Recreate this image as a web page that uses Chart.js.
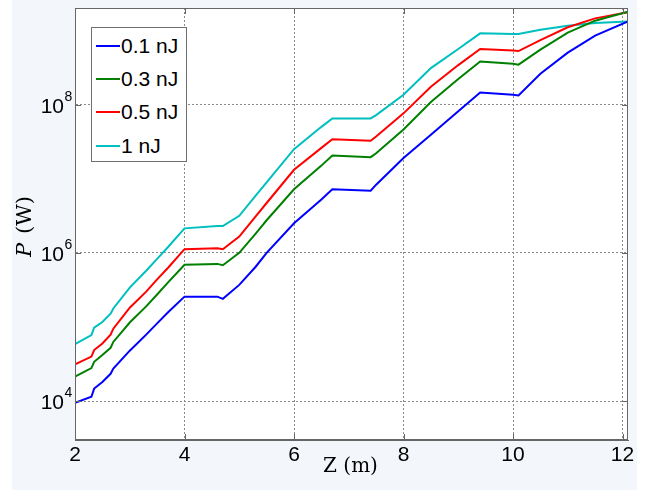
<!DOCTYPE html>
<html>
<head>
<meta charset="utf-8">
<script src="https://cdn.jsdelivr.net/npm/chart.js@4/dist/chart.umd.min.js"></script>
<style>
    html, body { margin: 0; padding: 0; background: #ffffff; }
    #wrap { position: relative; width: 645px; height: 492px; }
    #legend {
        position: absolute; left: 91px; top: 27px; width: 96px; height: 135px;
        box-sizing: border-box; border: 1px solid #6f6f6f; background: #ffffff;
        padding-top: 1px; font-family: 'Liberation Sans', Arial, sans-serif; font-size: 21px; color: #000;
    }
    #legend .row { display: flex; align-items: center; height: 33.4px; }
    #legend .swatch { width: 24px; height: 2px; margin-left: 4px; margin-right: 1px; }
</style>
</head>
<body>
<div id="wrap">
    <canvas id="chart"></canvas>
    <div id="legend"></div>
</div>
<script>
    'use strict';

    // propagation distance Z (m)
    const zValues = [2.0, 2.3, 2.35, 2.5, 2.65, 2.7, 3.0, 3.3, 3.5, 3.7, 4.0, 4.6, 4.7, 5.0, 5.3, 5.5,
        6.0, 6.5, 6.7, 7.4, 7.5, 8.0, 8.5, 9.0, 9.4, 10.0, 10.1, 10.5, 11.0, 11.5, 12.1];

    // peak power P (W) for each input energy
    const p01nJ = [9.5e3, 1.15e4, 1.48e4, 1.82e4, 2.34e4, 2.75e4, 4.8e4, 7.9e4, 1.12e5, 1.58e5, 2.57e5, 2.57e5, 2.4e5,
        3.7e5, 6.5e5, 1.0e6, 2.5e6, 5.25e6, 7.2e6, 6.9e6, 8.3e6, 1.9e7, 3.9e7, 8.1e7, 1.45e8, 1.35e8, 1.32e8,
        2.6e8, 5.0e8, 8.5e8, 1.32e9];
    const p03nJ = [2.14e4, 2.8e4, 3.4e4, 4.2e4, 5.25e4, 6.3e4, 1.15e5, 1.9e5, 2.75e5, 4.0e5, 6.9e5, 7.1e5, 6.8e5,
        1.0e6, 1.82e6, 2.75e6, 7.2e6, 1.5e7, 2.05e7, 1.95e7, 2.2e7, 4.6e7, 1.08e8, 2.2e8, 3.8e8, 3.55e8, 3.45e8,
        5.5e8, 9.3e8, 1.35e9, 1.78e9];
    const p05nJ = [3.15e4, 4.0e4, 4.9e4, 6.0e4, 7.9e4, 9.5e4, 1.82e5, 3.0e5, 4.4e5, 6.3e5, 1.12e6, 1.15e6, 1.12e6,
        1.66e6, 3.1e6, 4.7e6, 1.32e7, 2.6e7, 3.4e7, 3.25e7, 3.7e7, 7.6e7, 1.74e8, 3.4e8, 5.6e8, 5.35e8, 5.25e8,
        7.4e8, 1.1e9, 1.45e9, 1.76e9];
    const p1nJ = [5.9e4, 7.8e4, 9.8e4, 1.17e5, 1.51e5, 1.78e5, 3.4e5, 5.75e5, 8.3e5, 1.2e6, 2.14e6, 2.3e6, 2.3e6,
        3.16e6, 5.9e6, 8.9e6, 2.5e7, 5.0e7, 6.5e7, 6.5e7, 7.2e7, 1.35e8, 3.1e8, 5.6e8, 9.1e8, 8.9e8, 8.9e8,
        1.02e9, 1.15e9, 1.26e9, 1.32e9];

    const seriesLabels = ['0.1 nJ', '0.3 nJ', '0.5 nJ', '1 nJ'];
    const xTickValues = [2, 4, 6, 8, 10, 12];
    const yTickValues = [1e4, 1e6, 1e8];

    const AXIS_COLOR = '#666666';
    const TICK_FONT = "'Liberation Sans', Arial, sans-serif";
    const TITLE_FONT = "'DejaVu Serif', 'Liberation Serif', serif";

    function toPoints(values) {
        return values.map((v, i) => ({ x: zValues[i], y: v }));
    }

    function lineSet(label, values, color) {
        return {
            label: label,
            data: toPoints(values),
            borderColor: color,
            backgroundColor: color,
            borderWidth: 2,
            pointRadius: 0,
            tension: 0,
            fill: false
        };
    }

    // figure background, white axes, box, inward ticks, log labels and axis titles
    const matlabFrame = {
        id: 'matlabFrame',
        beforeDraw(chart) {
            const { ctx, chartArea: a } = chart;
            ctx.save();
            ctx.fillStyle = '#f3f6fb';
            ctx.fillRect(12, 0, 625, 490);
            ctx.fillStyle = '#ffffff';
            ctx.fillRect(a.left, a.top, a.right - a.left, a.bottom - a.top);
            ctx.restore();
        },
        afterDraw(chart) {
            const { ctx, chartArea: a } = chart;
            const xs = chart.scales.x, ys = chart.scales.y;
            ctx.save();
            ctx.strokeStyle = AXIS_COLOR;
            ctx.lineWidth = 1;
            ctx.strokeRect(a.left + 0.5, a.top + 0.5, a.right - a.left - 1, a.bottom - a.top - 1);

            ctx.beginPath();
            xTickValues.forEach(v => {
                const px = Math.round(xs.getPixelForValue(v)) + 0.5;
                ctx.moveTo(px, a.bottom); ctx.lineTo(px, a.bottom - 6);
                ctx.moveTo(px, a.top); ctx.lineTo(px, a.top + 6);
            });
            yTickValues.forEach(v => {
                const py = Math.round(ys.getPixelForValue(v)) + 0.5;
                ctx.moveTo(a.left, py); ctx.lineTo(a.left + 6, py);
                ctx.moveTo(a.right, py); ctx.lineTo(a.right - 6, py);
            });
            ctx.stroke();

            // y tick labels as 10 with a raised exponent
            ctx.fillStyle = '#000000';
            ctx.textBaseline = 'alphabetic';
            yTickValues.forEach(v => {
                const py = ys.getPixelForValue(v);
                const exp = String(Math.round(Math.log10(v)));
                ctx.font = '21px ' + TICK_FONT;
                ctx.textAlign = 'right';
                ctx.fillText('10', a.left - 11, py + 8);
                ctx.font = '14px ' + TICK_FONT;
                ctx.textAlign = 'left';
                ctx.fillText(exp, a.left - 10.5, py - 4);
            });

            // axis titles
            ctx.font = '20px ' + TITLE_FONT;
            ctx.textAlign = 'center';
            ctx.fillText('Z (m)', (a.left + a.right) / 2 - 1, 472);

            ctx.translate(31, (a.top + a.bottom) / 2);
            ctx.rotate(-Math.PI / 2);
            ctx.textAlign = 'left';
            ctx.font = 'italic 21px ' + TITLE_FONT;
            ctx.fillText('P', -33, 0);
            ctx.font = '21px ' + TITLE_FONT;
            ctx.fillText('(W)', -10, 0);
            ctx.restore();
        }
    };

    const chart = new Chart(document.getElementById('chart').getContext('2d'), {
        type: 'line',
        data: {
            datasets: [
                lineSet(seriesLabels[0], p01nJ, '#0000ff'),
                lineSet(seriesLabels[1], p03nJ, '#008000'),
                lineSet(seriesLabels[2], p05nJ, '#ff0000'),
                lineSet(seriesLabels[3], p1nJ, '#00bfbf')
            ]
        },
        options: {
            responsive: true,
            maintainAspectRatio: false,
            animation: false,
            layout: { padding: { left: 0, right: 17, top: 8, bottom: 0 } },
            plugins: { legend: { display: false }, tooltip: { enabled: false } },
            scales: {
                x: {
                    type: 'linear',
                    min: 2,
                    max: 12.1,
                    afterBuildTicks(scale) { scale.ticks = xTickValues.map(v => ({ value: v })); },
                    afterFit(scale) { scale.height = 52; },
                    grid: { color: '#8a8a8a', lineWidth: 1, drawTicks: false },
                    border: { display: true, color: AXIS_COLOR, dash: [2, 2] },
                    ticks: {
                        color: '#000000',
                        padding: 3,
                        maxRotation: 0,
                        autoSkip: false,
                        font: { size: 21, family: TICK_FONT }
                    }
                },
                y: {
                    type: 'logarithmic',
                    min: 3000,
                    max: 2e9,
                    afterBuildTicks(scale) { scale.ticks = yTickValues.map(v => ({ value: v })); },
                    afterFit(scale) { scale.width = 75; },
                    grid: { color: '#8a8a8a', lineWidth: 1, drawTicks: false },
                    border: { display: true, color: AXIS_COLOR, dash: [2, 2] },
                    ticks: { display: false }
                }
            }
        },
        plugins: [matlabFrame]
    });

    // legend box drawn from the chart's own datasets
    const legendEl = document.getElementById('legend');
    chart.data.datasets.forEach(ds => {
        const row = document.createElement('div');
        row.className = 'row';
        const sw = document.createElement('span');
        sw.className = 'swatch';
        sw.style.background = ds.borderColor;
        const txt = document.createElement('span');
        txt.textContent = ds.label;
        row.appendChild(sw);
        row.appendChild(txt);
        legendEl.appendChild(row);
    });
</script>
</body>
</html>
